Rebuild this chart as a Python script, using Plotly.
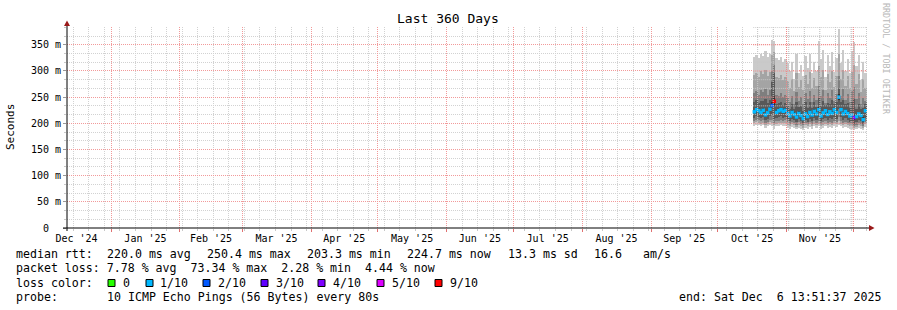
import plotly.graph_objects as go
import pandas as pd
import numpy as np

# ---------------- data ----------------
first_day = "2025-10-17 12:00"     # one column per day, Oct 17 .. Dec 6 2025
n_days = 51

# sorted pings (10 per probe), consolidated per day, in ms
ping01 = [195,197,196,194,196,192,194,197,194,190, 194,195,196,195,195,192,190,193,191,189,
          192,190,188,191,189,193,190,194,191,194, 189,192,194,191,193,191,195,193,197,194,
          191,193,191,189,190,188,189,191,190,187, 193]
ping02 = [200,202,201,199,201,197,199,202,200,196, 199,200,201,200,200,197,195,198,196,193,
          197,195,192,196,194,198,195,199,196,199, 194,197,199,196,198,196,200,198,204,199,
          196,198,196,194,195,192,193,196,194,191, 198]
ping03 = [205,207,206,204,206,201,203,207,206,200, 204,205,207,205,206,202,199,203,200,197,
          202,199,196,201,198,203,199,204,201,205, 198,202,204,200,203,201,205,203,212,205,
          200,203,201,198,199,195,197,200,198,194, 203]
ping04 = [211,214,213,210,213,206,209,214,215,208, 210,212,214,211,213,208,204,209,206,202,
          208,205,200,207,203,209,205,211,207,212, 204,208,211,206,210,208,212,209,228,212,
          206,210,207,203,205,199,202,206,204,198, 210]
ping05 = [219,223,221,218,222,213,217,224,229,233, 218,221,223,220,222,216,211,218,214,209,
          216,212,206,215,210,218,213,220,215,222, 211,217,221,214,219,216,223,218,244,223,
          215,220,216,211,213,206,210,215,212,203, 221]
ping06 = [226,230,228,225,229,220,224,231,240,252, 225,228,230,227,229,223,218,225,221,216,
          223,219,213,222,217,225,220,227,222,231, 218,224,228,221,226,223,230,225,256,230,
          222,227,223,218,220,217,217,222,219,212, 228]
ping07 = [240,244,239,243,242,246,238,245,278,296, 236,238,241,235,239,233,227,236,228,240,
          231,234,224,240,229,241,230,240,232,248, 233,242,235,238,236,244,236,240,268,240,
          244,237,238,229,240,246,228,236,228,230, 236]
ping08 = [258,262,255,264,259,266,254,263,300,312, 254,252,258,250,255,248,240,252,236,260,
          242,250,236,258,246,262,240,255,244,272, 252,264,238,258,248,264,242,256,290,252,
          266,244,256,240,262,270,246,258,236,248, 242]
ping09 = [292,296,288,300,294,302,290,298,330,336, 289,286,293,282,288,280,268,284,262,296,
          270,282,264,292,276,298,268,287,272,310, 288,302,263,294,278,300,270,290,332,284,
          302,272,290,268,298,312,276,294,260,284, 268]
ping10 = [327,331,325,333,329,338,326,332,360,357, 324,321,326,318,322,316,300,318,285,332,
          296,312,290,328,305,332,296,318,300,357, 322,341,289,330,310,336,298,325,381,315,
          340,300,322,297,338,355,310,330,283,318, 296]
median_rtt = [222,226,224,221,225,216,220,227,234,242, 221,224,226,223,225,219,214,221,217,212,
              219,215,209,218,213,221,216,223,218,226, 214,220,224,217,222,219,226,221,250,226,
              218,223,219,214,216,211,213,218,215,207, 224]
loss_tenths = [1,1,1,1,1,1,1,1,2,9, 1,1,1,1,1,1,1,1,1,1,
               1,1,1,1,1,1,1,1,1,1, 1,1,1,1,1,1,1,1,1,1,
               1,1,1,1,1,4,1,1,1,1, 1]

loss_keys = [0, 1, 2, 3, 4, 5, 9]
loss_labels = ["0", "1/10", "2/10", "3/10", "4/10", "5/10", "9/10"]
loss_colors = ["#26ff00", "#00b8ff", "#0059ff", "#5e00ff", "#7e00ff", "#dd00ff", "#ff0000"]

y_ticks = [0, 50, 100, 150, 200, 250, 300, 350]
y_tick_text = ["0\u00a0\u00a0", "50 m", "100 m", "150 m", "200 m", "250 m", "300 m", "350 m"]

# legend lines: (text, x pixel) tokens
line_rtt = [("median rtt:", 16), ("220.0 ms avg", 107), ("250.4 ms max", 207),
            ("203.3 ms min", 307), ("224.7 ms now", 407), ("13.3 ms sd", 507.5),
            ("16.6", 594), ("am/s", 642.5)]
line_loss = "packet loss: 7.78 % avg  73.34 % max  2.28 % min  4.44 % now"
probe_text = "10 ICMP Echo Pings (56 Bytes) every 80s"
end_text = "end: Sat Dec  6 13:51:37 2025"

# ---------------- geometry helpers ----------------
L, T, W, H = 67, 27, 800, 201       # plot area in pixels
X0 = pd.Timestamp("2024-12-12 04:48")
X1 = X0 + pd.Timedelta(days=360)
Y_MAX = 384
MONO = "DejaVu Sans Mono"
MINOR_C = "#d2d2d2"
MAJOR_C = "#f29a9a"
DOTS = "1px,1px"


def xp(px):
    return (px - L) / W


def yp(py):
    return (T + H - py) / H


def keep_spaces(s):
    return s.replace("  ", "\u00a0\u00a0")


days = pd.date_range(first_day, periods=n_days, freq="D")
pings = [ping01, ping02, ping03, ping04, ping05, ping06, ping07, ping08, ping09, ping10]
smoke_colors = ["#cacaca", "#a4a4a4", "#7e7e7e", "#585858", "#323232"]

fig = go.Figure()
for i in range(5):
    lo = np.array(pings[i], dtype=float)
    hi = np.array(pings[9 - i], dtype=float)
    fig.add_trace(go.Bar(x=days, y=hi - lo, base=lo, width=86400000,
                         marker=dict(color=smoke_colors[i], line=dict(width=0)),
                         hoverinfo="skip", showlegend=False))

cmap = dict(zip(loss_keys, loss_colors))
fig.add_trace(go.Scatter(x=days, y=median_rtt, mode="markers",
                         marker=dict(symbol="square", size=3.5,
                                     color=[cmap[v] for v in loss_tenths],
                                     line=dict(width=0)),
                         hoverinfo="skip", showlegend=False))

fig.update_layout(
    width=897, height=310,
    margin=dict(l=L, r=897 - L - W, t=T, b=310 - T - H),
    paper_bgcolor="white", plot_bgcolor="white",
    barmode="overlay", bargap=0, showlegend=False,
    font=dict(family=MONO, size=10, color="#000"),
)
fig.update_xaxes(type="date", range=[X0, X1], dtick="M1", tick0="2025-01-01",
                 ticklabelmode="period", tickformat="%b '%y", ticklabelstandoff=-2,
                 showgrid=True, gridcolor=MAJOR_C, griddash=DOTS, gridwidth=1,
                 zeroline=False, showline=False,
                 ticks="outside", ticklen=3, tickcolor="#e07070",
                 tickfont=dict(family=MONO, size=10, color="#000"),
                 minor=dict(dtick=7 * 86400000, tick0="2024-12-15", ticks="outside",
                            ticklen=2, tickcolor="#c8c8c8", showgrid=True,
                            gridcolor=MINOR_C, griddash=DOTS, gridwidth=1))
fig.update_yaxes(range=[0, Y_MAX], tickvals=y_ticks, ticktext=y_tick_text,
                 showgrid=True, gridcolor=MAJOR_C, griddash=DOTS, gridwidth=1,
                 zeroline=False, showline=False,
                 ticks="outside", ticklen=3, tickcolor="#999",
                 tickfont=dict(family=MONO, size=10, color="#000"),
                 minor=dict(dtick=50 / 3, ticks="outside", ticklen=2, tickcolor="#c8c8c8",
                            showgrid=True, gridcolor=MINOR_C, griddash=DOTS, gridwidth=1))

# ---------------- grid redrawn above the smoke (like rrdtool) ----------------
shapes = []
d_lo = days[0] - pd.Timedelta(hours=12)
d_hi = days[-1] + pd.Timedelta(hours=12)
for d in pd.date_range("2024-12-15", X1, freq="7D"):
    if d_lo <= d <= d_hi:
        shapes.append(dict(type="line", xref="x", yref="paper", x0=d, x1=d, y0=0, y1=1,
                           line=dict(color="#c8c8c8", width=1, dash=DOTS), layer="above"))
minor_y = [v for v in np.arange(50 / 3, Y_MAX, 50 / 3) if abs(v / 50 - round(v / 50)) > 1e-6]
for v in minor_y:
    shapes.append(dict(type="line", xref="x", yref="y", x0=d_lo, x1=d_hi, y0=v, y1=v,
                       line=dict(color="#c8c8c8", width=1, dash=DOTS), layer="above"))
for d in pd.date_range("2025-01-01", X1, freq="MS"):
    if d_lo <= d <= d_hi:
        shapes.append(dict(type="line", xref="x", yref="paper", x0=d, x1=d, y0=0, y1=1,
                           line=dict(color="#f08888", width=1, dash=DOTS), layer="above"))
for v in y_ticks[1:]:
    shapes.append(dict(type="line", xref="x", yref="y", x0=d_lo, x1=d_hi, y0=v, y1=v,
                       line=dict(color="#f08888", width=1, dash=DOTS), layer="above"))

# axes with arrows
shapes.append(dict(type="line", xref="paper", yref="paper", x0=xp(67), x1=xp(67),
                   y0=yp(231), y1=yp(24), line=dict(color="#000", width=1), layer="above"))
shapes.append(dict(type="line", xref="paper", yref="paper", x0=xp(63), x1=xp(870),
                   y0=yp(228), y1=yp(228), line=dict(color="#000", width=1), layer="above"))
shapes.append(dict(type="path", xref="paper", yref="paper",
                   path=f"M {xp(64)} {yp(26)} L {xp(70)} {yp(26)} L {xp(67)} {yp(20.5)} Z",
                   fillcolor="#9a1a1a", line=dict(width=0), layer="above"))
shapes.append(dict(type="path", xref="paper", yref="paper",
                   path=f"M {xp(869)} {yp(225)} L {xp(869)} {yp(231)} L {xp(874.5)} {yp(228)} Z",
                   fillcolor="#9a1a1a", line=dict(width=0), layer="above"))

# loss colour boxes
box_x = [108, 146, 203, 261, 318, 377, 435]
lab_x = [123, 160, 218, 276, 333, 392, 450]
for bx, c in zip(box_x, loss_colors):
    shapes.append(dict(type="rect", xref="paper", yref="paper",
                       x0=xp(bx), x1=xp(bx + 7), y0=yp(286.5), y1=yp(279.5),
                       fillcolor=c, line=dict(color="#000", width=1)))
fig.update_layout(shapes=shapes)


def txt(s, px, py, size=11.6, anchor="left", color="#000", angle=0):
    fig.add_annotation(x=xp(px), y=yp(py), xref="paper", yref="paper", text=keep_spaces(s),
                       showarrow=False, xanchor=anchor, yanchor="middle",
                       font=dict(family=MONO, size=size, color=color),
                       borderpad=0, borderwidth=0, textangle=angle)


txt("Last 360 Days", 448, 19, size=13, anchor="center")
txt("Seconds", 11, 127, size=11, anchor="center", angle=-90)
txt("RRDTOOL / TOBI OETIKER", 886, 59, size=8.4, anchor="center", color="#b8b8b8", angle=90)

# legend / comments
for s, px in line_rtt:
    txt(s, px, 254)
txt(line_loss, 16, 268)
txt("loss color:", 16, 283)
for s, px in zip(loss_labels, lab_x):
    txt(s, px, 283)
txt("probe:", 16, 297)
txt(probe_text, 107, 297)
txt(end_text, 881, 297, anchor="right")

fig.write_html("out.html")
